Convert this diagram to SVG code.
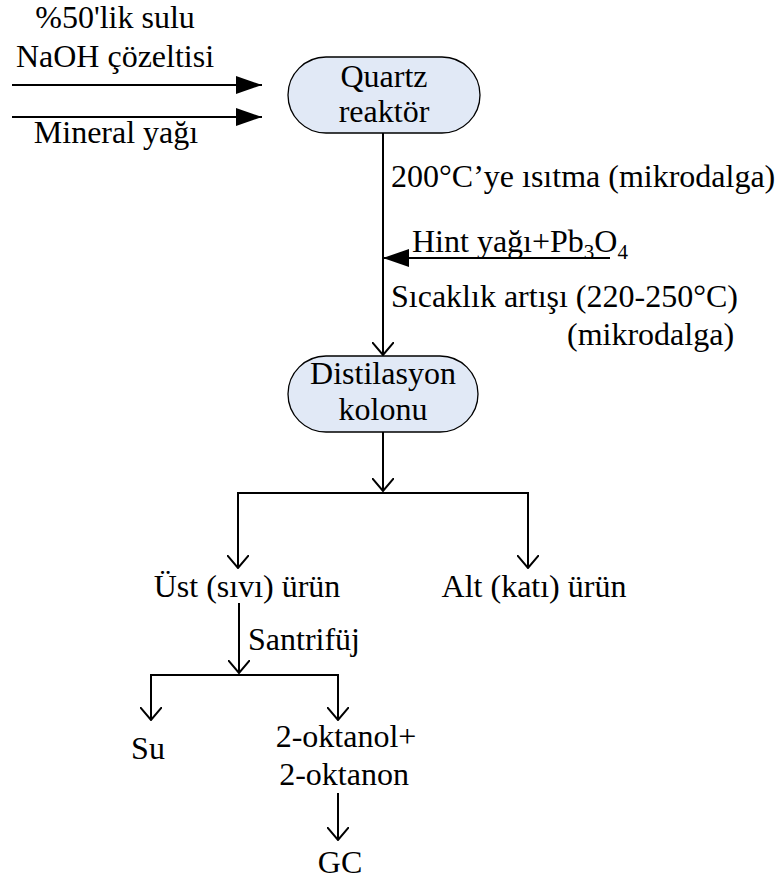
<svg xmlns="http://www.w3.org/2000/svg" width="780" height="883" viewBox="0 0 780 883">
  <style>
    text { font-family: "Liberation Serif", "DejaVu Serif", "Times New Roman", serif; font-size: 32px; fill: #000; }
    .mid { text-anchor: middle; }
    .node { fill: #e1e9f6; stroke: #000; stroke-width: 1.3; }
    .wire { fill: none; stroke: #000; stroke-width: 2; }
  </style>
  <defs>
    <marker id="open" viewBox="0 0 14 22" refX="13" refY="11" markerWidth="14" markerHeight="22" markerUnits="userSpaceOnUse" orient="auto">
      <path d="M0,0 L13,11 L0,22" fill="none" stroke="#000" stroke-width="2"/>
    </marker>
    <marker id="solid" viewBox="0 0 26 20" refX="26" refY="10" markerWidth="26" markerHeight="20" markerUnits="userSpaceOnUse" orient="auto">
      <path d="M0,1 L26,10 L0,19 Z" fill="#000"/>
    </marker>
  </defs>

  <!-- feed labels -->
  <text class="mid" x="115" y="28">%50'lik sulu</text>
  <text class="mid" x="115" y="67">NaOH çözeltisi</text>
  <text class="mid" x="116" y="143">Mineral yağı</text>

  <g id="reactor">
    <rect class="node" x="288" y="57" width="192" height="76" rx="38" ry="38"/>
    <text class="mid" x="384" y="87">Quartz</text>
    <text class="mid" x="384" y="122">reaktör</text>
  </g>

  <g id="column">
    <rect class="node" x="288" y="356" width="190" height="76" rx="38" ry="38"/>
    <text class="mid" x="383" y="384">Distilasyon</text>
    <text class="mid" x="383" y="420">kolonu</text>
  </g>

  <g id="top-product"><text class="mid" x="247" y="597">Üst (sıvı) ürün</text></g>
  <g id="bottom-product"><text class="mid" x="534" y="597">Alt (katı) ürün</text></g>
  <g id="water"><text class="mid" x="148" y="759">Su</text></g>
  <g id="octanol">
    <text class="mid" x="346" y="747">2-oktanol+</text>
    <text class="mid" x="344" y="785">2-oktanon</text>
  </g>
  <g id="gc"><text class="mid" x="340" y="873">GC</text></g>

  <!-- step labels -->
  <text x="391" y="187">200°C’ye ısıtma (mikrodalga)</text>
  <text x="412" y="252">Hint yağı+Pb<tspan font-size="21" dy="7">3</tspan><tspan dy="-7">O</tspan><tspan font-size="21" dy="7">4</tspan></text>
  <text x="391" y="307">Sıcaklık artışı (220-250°C)</text>
  <text x="567" y="345">(mikrodalga)</text>
  <text x="248" y="650">Santrifüj</text>

  <g id="connectors">
    <path class="wire" d="M12,85 H262" marker-end="url(#solid)"/>
    <path class="wire" d="M12,117 H262" marker-end="url(#solid)"/>
    <path class="wire" d="M383,133 V355" marker-end="url(#open)"/>
    <path class="wire" d="M610,258 H383" marker-end="url(#solid)"/>
    <path class="wire" d="M383,432 V491" marker-end="url(#open)"/>
    <path class="wire" d="M238,493 H528"/>
    <path class="wire" d="M238,492 V568" marker-end="url(#open)"/>
    <path class="wire" d="M528,492 V568" marker-end="url(#open)"/>
    <path class="wire" d="M239,603 V673" marker-end="url(#open)"/>
    <path class="wire" d="M151,675 H338"/>
    <path class="wire" d="M151,674 V720" marker-end="url(#open)"/>
    <path class="wire" d="M338,674 V720" marker-end="url(#open)"/>
    <path class="wire" d="M338,793 V840" marker-end="url(#open)"/>
  </g>
</svg>
